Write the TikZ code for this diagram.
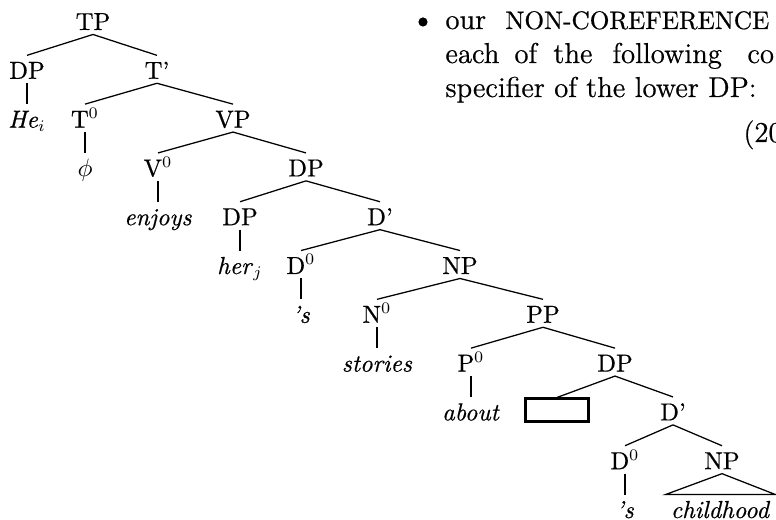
\documentclass[tikz,border=0pt]{standalone}
\usepackage{fontspec}
\setmainfont{Latin Modern Roman}[FakeBold=0.6]
\begin{document}
\begin{tikzpicture}[x=0.435pt,y=-0.435pt,
  tn/.style={inner sep=0pt, anchor=base, text height=10pt, text depth=1.75pt, font=\fontsize{10.7}{12}\selectfont},
  rt/.style={inner sep=0pt, anchor=base west, font=\fontsize{12.5}{15}\selectfont},
  br/.style={line width=0.55pt},
  gapbox/.style={draw, line width=0.9pt, inner sep=0pt, minimum width=27.4pt, minimum height=10pt}]
\useasboundingbox (0,0) rectangle (776,520);
\clip (0,0) rectangle (776,520);
% tree nodes
\node[tn] (TP) at (93,30) {TP};
\node[tn] (DPa) at (27,78.8) {DP};
\node[tn] (Tb) at (157,78.8) {T'};
\node[tn] (He) at (27,127.6) {\textit{He}$_i$};
\node[tn] (T0) at (85,127.6) {T$^0$};
\node[tn] (VP) at (233,127.6) {VP};
\node[tn] (phi) at (85,176.4) {$\phi$};
\node[tn] (V0) at (158,176.4) {V$^0$};
\node[tn] (DPb) at (306,176.4) {DP};
\node[tn] (enjoys) at (158,225.2) {\textit{enjoys}};
\node[tn] (DPc) at (240,225.2) {DP};
\node[tn] (Dba) at (380,225.2) {D'};
\node[tn] (her) at (240,274) {\textit{her}$_j$};
\node[tn] (D0a) at (301,274) {D$^0$};
\node[tn] (NPa) at (460,274) {NP};
\node[tn] (sa) at (301,322.8) {\textit{'s}};
\node[tn] (N0) at (377,322.8) {N$^0$};
\node[tn] (PP) at (543,322.8) {PP};
\node[tn] (stories) at (377,371.6) {\textit{stories}};
\node[tn] (P0) at (471,371.6) {P$^0$};
\node[tn] (DPd) at (615,371.6) {DP};
\node[tn] (about) at (471,420.4) {\textit{about}};
\node[gapbox] (gap) at (557,410) {};
\node[tn] (Dbb) at (673,420.4) {D'};
\node[tn] (D0b) at (625,469.2) {D$^0$};
\node[tn] (NPb) at (722,469.2) {NP};
\node[tn] (sb) at (625,518) {\textit{'s}};
\node[tn, minimum width=47.4pt] (child) at (720.5,518) {\textit{childhood}};
% branches
\draw[br] (TP.south) -- (DPa.north);
\draw[br] (TP.south) -- (Tb.north);
\draw[br] (DPa.south) -- (He.north);
\draw[br] (Tb.south) -- (T0.north);
\draw[br] (Tb.south) -- (VP.north);
\draw[br] (T0.south) -- (phi.north);
\draw[br] (VP.south) -- (V0.north);
\draw[br] (VP.south) -- (DPb.north);
\draw[br] (V0.south) -- (enjoys.north);
\draw[br] (DPb.south) -- (DPc.north);
\draw[br] (DPb.south) -- (Dba.north);
\draw[br] (DPc.south) -- (her.north);
\draw[br] (Dba.south) -- (D0a.north);
\draw[br] (Dba.south) -- (NPa.north);
\draw[br] (D0a.south) -- (sa.north);
\draw[br] (NPa.south) -- (N0.north);
\draw[br] (NPa.south) -- (PP.north);
\draw[br] (N0.south) -- (stories.north);
\draw[br] (PP.south) -- (P0.north);
\draw[br] (PP.south) -- (DPd.north);
\draw[br] (P0.south) -- (about.north);
\draw[br] (DPd.south) -- (gap.north);
\draw[br] (DPd.south) -- (Dbb.north);
\draw[br] (Dbb.south) -- (D0b.north);
\draw[br] (Dbb.south) -- (NPb.north);
\draw[br] (D0b.south) -- (sb.north);
\draw[br] (NPb.south) -- (child.north west) -- (child.north east) -- cycle;
% right-hand text
\fill (423,22) circle (2pt);
\node[rt] (w1) at (445,29) {our};
\node[rt] (w2) at (505,29) {\fontsize{11}{13}\selectfont NON-COREFERENCE};
\node[rt] (w3) at (445,63) {each};
\node[rt] (w4) at (514,63) {of};
\node[rt] (w5) at (553,63) {the};
\node[rt] (w6) at (612,63) {following};
\node[rt] (w7) at (747,63) {co};
\node[rt] (w8) at (445,97) {specifier of the lower DP:};
\node[rt] (w9) at (743,142) {(20};
\end{tikzpicture}
\end{document}
